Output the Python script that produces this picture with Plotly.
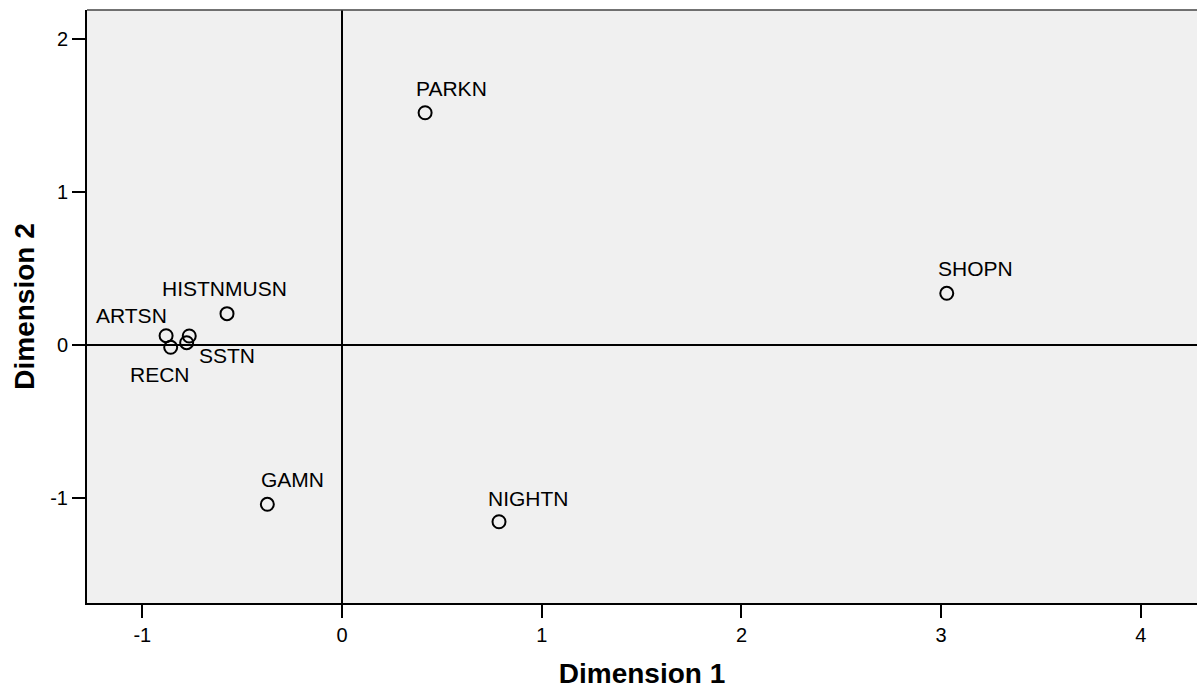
import plotly.graph_objects as go

# ---- data ----
names = ["ARTSN", "RECN", "HISTN", "SSTN", "MUSN", "PARKN", "SHOPN", "GAMN", "NIGHTN"]
dim1 = [-0.881, -0.858, -0.765, -0.778, -0.576, 0.416, 3.028, -0.374, 0.786]
dim2 = [0.063, -0.013, 0.061, 0.017, 0.207, 1.520, 0.340, -1.039, -1.153]
x_ticks = [-1, 0, 1, 2, 3, 4]
y_ticks = [-1, 0, 1, 2]
x_title = "Dimension 1"
y_title = "Dimension 2"

# ---- label placement (style): (dx to text left, baseline height above marker) in px ----
label_offsets = {
    "ARTSN": (-72, 12),
    "RECN": (-43, -36),
    "HISTN": (-29, 39),
    "SSTN": (10, -21),
    "MUSN": (-4, 17),
    "PARKN": (-11, 16),
    "SHOPN": (-11, 16),
    "GAMN": (-8, 16),
    "NIGHTN": (-13, 15),
}

FONT = "Arial, Liberation Sans, sans-serif"
LBL_SIZE = 21
DESC = 5  # approx px between text box bottom and baseline

fig = go.Figure()
fig.add_trace(go.Scatter(
    x=dim1, y=dim2, mode="markers",
    marker=dict(symbol="circle-open", size=13, color="black", line=dict(width=2, color="black")),
    hoverinfo="text", text=names, showlegend=False,
))

annotations = []
for n, xv, yv in zip(names, dim1, dim2):
    dx, b = label_offsets[n]
    annotations.append(dict(
        x=xv, y=yv, xref="x", yref="y", text=n, showarrow=False,
        xanchor="left", yanchor="bottom", xshift=dx, yshift=b - DESC,
        font=dict(family=FONT, size=LBL_SIZE, color="black"),
    ))

fig.update_layout(
    width=1197, height=695,
    margin=dict(l=87, r=0, t=10, b=92, pad=0),
    paper_bgcolor="white", plot_bgcolor="#F0F0F0",
    font=dict(family=FONT, size=20, color="black"),
    annotations=annotations,
    shapes=[dict(type="line", xref="paper", yref="paper", x0=0, x1=1, y0=1, y1=1,
                 line=dict(color="#444444", width=1.5))],
)
fig.update_xaxes(
    range=[-1.277, 4.281], tickvals=x_ticks, ticktext=[str(v) for v in x_ticks],
    showgrid=False, zeroline=True, zerolinecolor="black", zerolinewidth=2,
    showline=True, linecolor="black", linewidth=2, mirror=False,
    ticks="outside", ticklen=13, tickwidth=2, tickcolor="black",
    tickfont=dict(family=FONT, size=20, color="black"),
    title=dict(text=x_title, font=dict(family=FONT, size=28, color="black", weight="bold"), standoff=18),
)
fig.update_yaxes(
    range=[-1.684, 2.1915], tickvals=y_ticks, ticktext=[str(v) for v in y_ticks],
    showgrid=False, zeroline=True, zerolinecolor="black", zerolinewidth=2,
    showline=True, linecolor="black", linewidth=2, mirror=False,
    ticks="outside", ticklen=13, tickwidth=2, tickcolor="black",
    tickfont=dict(family=FONT, size=20, color="black"),
    title=dict(text=y_title, font=dict(family=FONT, size=28, color="black", weight="bold"), standoff=7),
)

fig.write_html(
    "out.html",
    config={"displayModeBar": False},
    post_script="document.body.style.margin='0';document.body.style.overflow='hidden';",
)
